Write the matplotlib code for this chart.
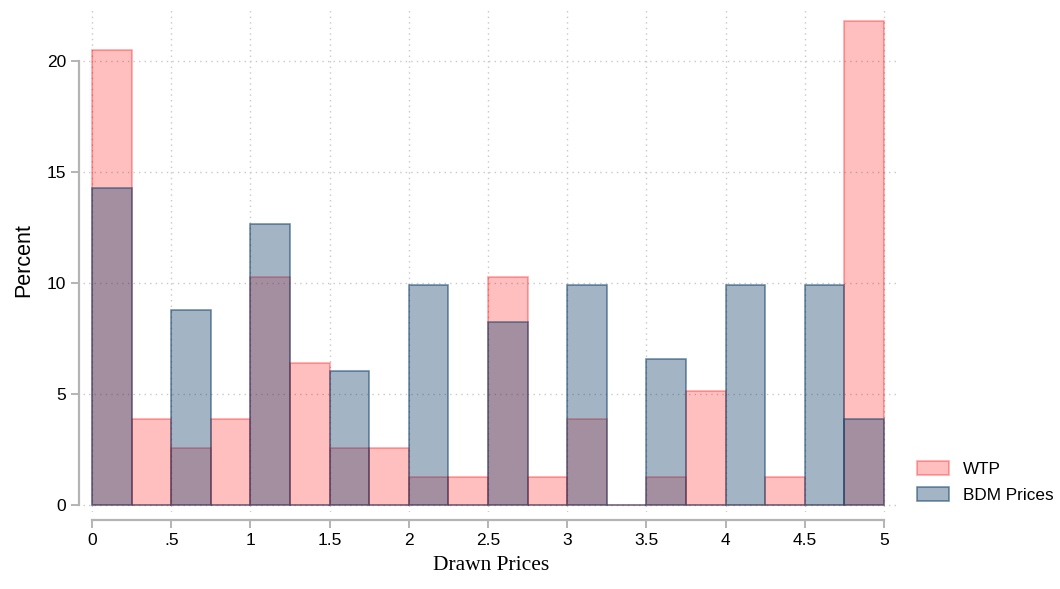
import numpy as np
import matplotlib
matplotlib.use('Agg')
from matplotlib import pyplot as plt

# bin edges (links) en breedte van de histogram-balken
bin_left = [0, .25, .5, .75, 1, 1.25, 1.5, 1.75, 2, 2.25, 2.5, 2.75,
            3, 3.25, 3.5, 3.75, 4, 4.25, 4.5, 4.75]
bin_width = 0.25

# percentages per bin
wtp = [20.5, 3.85, 2.56, 3.85, 10.26, 6.41, 2.56, 2.56, 1.28, 1.28,
       10.26, 1.28, 3.85, 0, 1.28, 5.13, 0, 1.28, 0, 21.8]
bdm = [14.29, 0, 8.79, 0, 12.64, 0, 6.04, 0, 9.89, 0,
       8.24, 0, 9.89, 0, 6.59, 0, 9.89, 0, 9.89, 3.85]

xticks = [0, .5, 1, 1.5, 2, 2.5, 3, 3.5, 4, 4.5, 5]
xticklabels = ['0', '.5', '1', '1.5', '2', '2.5', '3', '3.5', '4', '4.5', '5']
yticks = [0, 5, 10, 15, 20]

red = (1, 0, 0)
navy = (26/255, 71/255, 111/255)

fig = plt.figure(figsize=(10.6, 5.89), dpi=100)
ax = fig.add_axes([0.0783, 0.1307, 0.7707, 0.857])

ax.bar(bin_left, wtp, width=bin_width, align='edge',
       color=(*red, 0.25), edgecolor=(*red, 0.35), linewidth=1.2, label='WTP', zorder=2)
ax.bar(bin_left, bdm, width=bin_width, align='edge',
       color=(*navy, 0.4), edgecolor=(*navy, 0.6), linewidth=1.2, label='BDM Prices', zorder=3)

ax.set_xlim(-0.057, 5.101)
ax.set_ylim(-0.32, 22.43)

ax.set_xticks(xticks)
ax.set_xticklabels(xticklabels)
ax.set_yticks(yticks)

ax.grid(True, linestyle=(0, (1, 3)), color='#c8c8c8', linewidth=1.0, zorder=0)
ax.set_axisbelow(True)

for s in ['top', 'right']:
    ax.spines[s].set_visible(False)
ax.spines['left'].set_position(('outward', 3))
ax.spines['bottom'].set_position(('outward', 6))
ax.spines['left'].set_bounds(0, 20)
ax.spines['bottom'].set_bounds(0, 5)
for s in ['left', 'bottom']:
    ax.spines[s].set_color('#b4b4b4')
    ax.spines[s].set_linewidth(1.6)

ax.tick_params(axis='both', direction='out', length=6, width=1.4, color='#b4b4b4',
               labelsize=12.5, pad=3)
for lab in ax.get_xticklabels() + ax.get_yticklabels():
    lab.set_fontfamily('Liberation Sans')

ax.set_xlabel('Drawn Prices', fontfamily='Liberation Serif', fontsize=15.5, labelpad=6)
ax.set_ylabel('Percent', fontfamily='Liberation Sans', fontsize=15.5, labelpad=9)

leg = ax.legend(loc='lower left', bbox_to_anchor=(0.865, 0.146), bbox_transform=fig.transFigure,
                frameon=False, prop={'family': 'Liberation Sans', 'size': 12.3},
                handlelength=1.9, handleheight=0.85, handletextpad=0.78, labelspacing=0.6,
                borderaxespad=0, borderpad=0)

plt.savefig('out.png', dpi=100)
